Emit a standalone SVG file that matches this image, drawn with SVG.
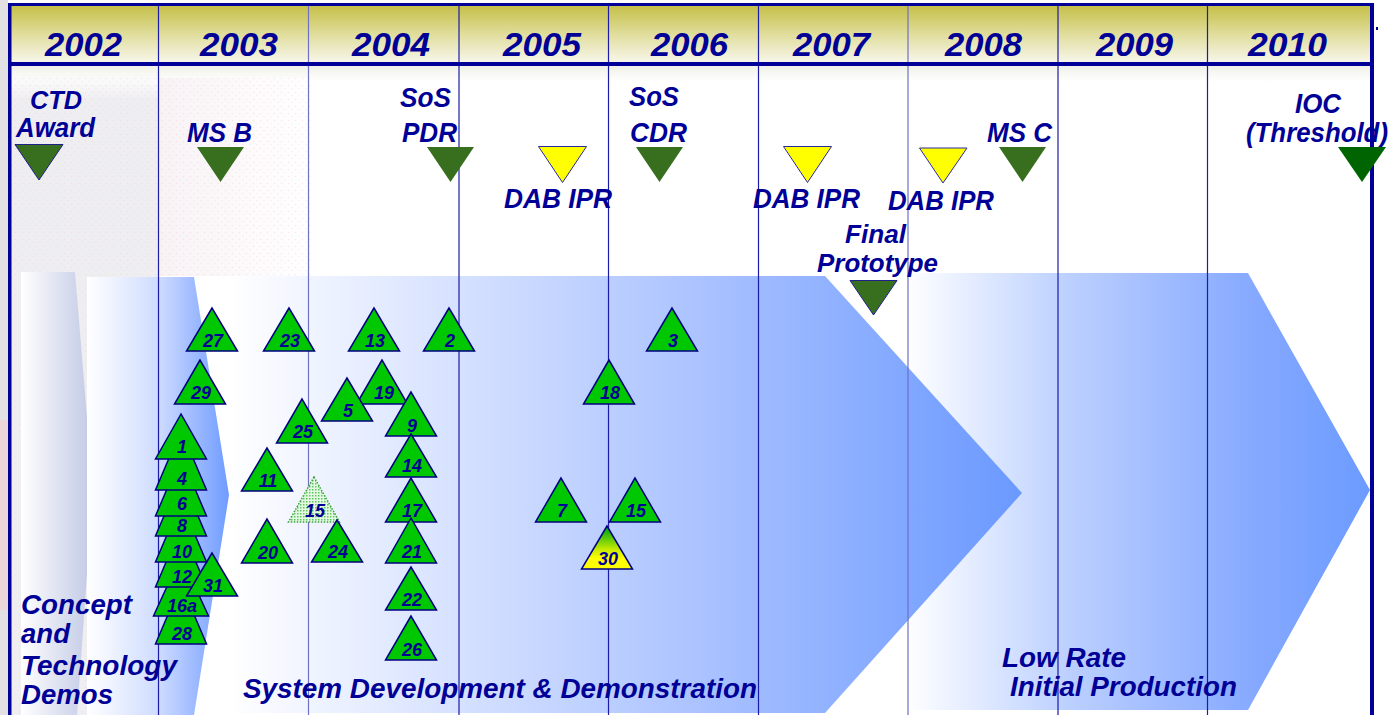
<svg xmlns="http://www.w3.org/2000/svg" width="1400" height="715" viewBox="0 0 1400 715">
<style>
.yr{font-family:"Liberation Sans",Arial,sans-serif;font-style:italic;font-weight:bold;font-size:34px;fill:#000096}
.ms{font-family:"Liberation Sans",Arial,sans-serif;font-style:italic;font-weight:bold;font-size:28px;fill:#000096}
.ms2{font-family:"Liberation Sans",Arial,sans-serif;font-style:italic;font-weight:bold;font-size:26px;fill:#000096}
.ms3{font-family:"Liberation Sans",Arial,sans-serif;font-style:italic;font-weight:bold;font-size:25px;fill:#000096}
.ph{font-family:"Liberation Sans",Arial,sans-serif;font-style:italic;font-weight:bold;font-size:27px;fill:#000096}
.tl{font-family:"Liberation Sans",Arial,sans-serif;font-style:italic;font-weight:bold;font-size:18px;fill:#000096;text-anchor:middle}
.tri{fill:#00c800;stroke:#000080;stroke-width:1.5;stroke-linejoin:miter}
.mg{fill:#386f1f}
.mgs{fill:#386f1f;stroke:#20208a;stroke-width:1}
.mi{fill:#006400}
.my{fill:#ffff00;stroke:#2a2aa0;stroke-width:1}
.col{stroke:#1c1ca6;stroke-width:1.2}
.coll{stroke:#7070c4;stroke-width:1.2}
.frame{fill:#000099}
</style>
<defs>
<linearGradient id="hdr" x1="0" y1="0" x2="0" y2="1">
<stop offset="0" stop-color="#c4bf45"/>
<stop offset="0.5" stop-color="#e0dd9c"/>
<stop offset="1" stop-color="#f8f7ec"/>
</linearGradient>
<linearGradient id="under" x1="0" y1="0" x2="0" y2="1">
<stop offset="0" stop-color="#f1f1ea"/>
<stop offset="1" stop-color="#ffffff"/>
</linearGradient>
<linearGradient id="greyv" x1="0" y1="0" x2="0" y2="1">
<stop offset="0" stop-color="#eeeef1" stop-opacity="0"/>
<stop offset="0.04" stop-color="#eeeef1"/>
<stop offset="1" stop-color="#efeff2"/>
</linearGradient>
<linearGradient id="pinkh" x1="0" y1="0" x2="1" y2="0">
<stop offset="0" stop-color="#f8f2f5"/>
<stop offset="1" stop-color="#ffffff"/>
</linearGradient>
<linearGradient id="g1" gradientUnits="userSpaceOnUse" x1="21" y1="0" x2="93" y2="0">
<stop offset="0" stop-color="#ffffff"/>
<stop offset="1" stop-color="#c0c8e4"/>
</linearGradient>
<linearGradient id="g2" gradientUnits="userSpaceOnUse" x1="87" y1="0" x2="229" y2="0">
<stop offset="0" stop-color="#ffffff"/>
<stop offset="0.5" stop-color="#cfdcff"/>
<stop offset="0.8" stop-color="#96b5ff"/>
<stop offset="1" stop-color="#6f9cff"/>
</linearGradient>
<linearGradient id="g3" gradientUnits="userSpaceOnUse" x1="228" y1="0" x2="1022" y2="0">
<stop offset="0" stop-color="#ffffff"/>
<stop offset="0.3" stop-color="#d4e0ff"/>
<stop offset="0.6" stop-color="#aac2ff"/>
<stop offset="0.85" stop-color="#82a8ff"/>
<stop offset="1" stop-color="#6a99ff"/>
</linearGradient>
<linearGradient id="g4" gradientUnits="userSpaceOnUse" x1="905" y1="0" x2="1370" y2="0">
<stop offset="0" stop-color="#ffffff"/>
<stop offset="0.35" stop-color="#bcd0ff"/>
<stop offset="0.75" stop-color="#86a9ff"/>
<stop offset="1" stop-color="#6b9bff"/>
</linearGradient>
<linearGradient id="g30" x1="0" y1="0" x2="0" y2="1">
<stop offset="0.1" stop-color="#10b010"/>
<stop offset="0.55" stop-color="#c8ec00"/>
<stop offset="0.75" stop-color="#ffff00"/>
</linearGradient>
<pattern id="dots" width="3" height="3" patternUnits="userSpaceOnUse">
<rect width="3" height="3" fill="#e4f8e4"/>
<rect width="1.5" height="1.5" fill="#5cc85c"/>
</pattern>
<pattern id="speck" width="7" height="7" patternUnits="userSpaceOnUse">
<circle cx="1.5" cy="1.5" r="0.8" fill="#f2bfd0"/>
<circle cx="5" cy="4.5" r="0.7" fill="#e8c8dc"/>
</pattern>
</defs>

<g id="background">
<rect width="1400" height="715" fill="#ffffff"/>
<rect x="0" y="0" width="8" height="715" fill="#e2e0e3"/>
<rect x="0" y="420" width="8" height="190" fill="#ecd6da"/>
<rect x="11" y="66" width="1360" height="16" fill="url(#under)"/>
<rect x="11" y="74" width="148" height="641" fill="url(#greyv)"/>
<rect x="159" y="78" width="150" height="198" fill="url(#pinkh)"/>
<rect x="11" y="78" width="300" height="198" fill="url(#speck)" opacity="0.35"/>
<rect x="11" y="276" width="148" height="439" fill="url(#speck)" opacity="0.25"/>
</g>

<g id="phase-arrows">
<polygon id="arrow-concept-1" points="21,272 75,272 93,490 77,715 21,715" fill="url(#g1)"/>
<polygon id="arrow-lrip" points="905,273 1248,273 1370,490 1248,710 905,710" fill="url(#g4)"/>
<polygon id="arrow-sdd" points="195,276 825,276 1022,493 825,713 195,713" fill="url(#g3)"/>
<polygon id="arrow-concept-2" points="87,277 194,277 229,495 194,715 87,715" fill="url(#g2)"/>
</g>

<g id="header">
<rect x="10" y="5" width="1362" height="58" fill="url(#hdr)"/>
</g>

<g id="grid">
<line class="col" x1="158.5" y1="5" x2="158.5" y2="715"/>
<line class="coll" x1="308.5" y1="5" x2="308.5" y2="715"/>
<line class="col" x1="459" y1="5" x2="459" y2="715"/>
<line class="col" x1="608.5" y1="5" x2="608.5" y2="715"/>
<line class="col" x1="758.5" y1="5" x2="758.5" y2="715"/>
<line class="coll" x1="908" y1="5" x2="908" y2="715"/>
<line class="col" x1="1058" y1="5" x2="1058" y2="715"/>
<line class="col" x1="1207.5" y1="5" x2="1207.5" y2="715"/>
</g>

<g id="frame">
<rect class="frame" x="8" y="3" width="1366" height="3"/>
<rect class="frame" x="8" y="3" width="3.5" height="712"/>
<rect class="frame" x="1370" y="3" width="4" height="712"/>
<rect class="frame" x="8" y="62" width="1366" height="4"/>
<rect class="frame" x="1376" y="27" width="2" height="3"/>
</g>

<g id="years">
<text class="yr" x="45" y="56" textLength="77" lengthAdjust="spacingAndGlyphs">2002</text>
<text class="yr" x="200" y="56" textLength="78" lengthAdjust="spacingAndGlyphs">2003</text>
<text class="yr" x="352" y="56" textLength="78" lengthAdjust="spacingAndGlyphs">2004</text>
<text class="yr" x="503" y="56" textLength="78" lengthAdjust="spacingAndGlyphs">2005</text>
<text class="yr" x="651" y="56" textLength="77" lengthAdjust="spacingAndGlyphs">2006</text>
<text class="yr" x="793" y="56" textLength="77" lengthAdjust="spacingAndGlyphs">2007</text>
<text class="yr" x="945" y="56" textLength="77" lengthAdjust="spacingAndGlyphs">2008</text>
<text class="yr" x="1096" y="56" textLength="77" lengthAdjust="spacingAndGlyphs">2009</text>
<text class="yr" x="1248" y="56" textLength="79" lengthAdjust="spacingAndGlyphs">2010</text>
</g>

<g id="ms-ctd">
<text class="ms2" x="30" y="109" textLength="52" lengthAdjust="spacingAndGlyphs">CTD</text>
<text class="ms" x="16" y="137" textLength="79" lengthAdjust="spacingAndGlyphs">Award</text>
<polygon class="mgs" points="15,144.5 63,144.5 39,180"/>
</g>
<g id="ms-b">
<text class="ms" x="187" y="142" textLength="65" lengthAdjust="spacingAndGlyphs">MS B</text>
<polygon class="mg" points="197,147 244,147 220.5,182"/>
</g>
<g id="ms-sos-pdr">
<text class="ms" x="400" y="107" textLength="51" lengthAdjust="spacingAndGlyphs">SoS</text>
<text class="ms" x="402" y="142" textLength="55" lengthAdjust="spacingAndGlyphs">PDR</text>
<polygon class="mg" points="427,147 474,147 450.5,182"/>
</g>
<g id="ms-dab-2005">
<polygon class="my" points="538.5,146.5 586.5,146.5 562.5,182.5"/>
<text class="ms" x="504" y="208" textLength="108" lengthAdjust="spacingAndGlyphs">DAB IPR</text>
</g>
<g id="ms-sos-cdr">
<text class="ms" x="629" y="106" textLength="50" lengthAdjust="spacingAndGlyphs">SoS</text>
<text class="ms" x="630" y="142" textLength="57" lengthAdjust="spacingAndGlyphs">CDR</text>
<polygon class="mg" points="636,147 683,147 659.5,182"/>
</g>
<g id="ms-dab-2007">
<polygon class="my" points="783.5,146.5 831.5,146.5 807.5,182.5"/>
<text class="ms" x="753" y="208" textLength="107" lengthAdjust="spacingAndGlyphs">DAB IPR</text>
</g>
<g id="ms-dab-2008">
<polygon class="my" points="919.5,148 967,148 943,183"/>
<text class="ms" x="888" y="210" textLength="106" lengthAdjust="spacingAndGlyphs">DAB IPR</text>
</g>
<g id="ms-c">
<text class="ms" x="987" y="142" textLength="65" lengthAdjust="spacingAndGlyphs">MS C</text>
<polygon class="mg" points="999,147 1046,147 1022.5,182"/>
</g>
<g id="ms-ioc">
<text class="ms" x="1295" y="113" textLength="46" lengthAdjust="spacingAndGlyphs">IOC</text>
<text class="ms" x="1246" y="142" textLength="142" lengthAdjust="spacingAndGlyphs">(Threshold)</text>
<polygon class="mi" points="1338,147 1386,147 1362,182"/>
</g>
<g id="ms-final-prototype">
<text class="ms3" x="845" y="243" textLength="61" lengthAdjust="spacingAndGlyphs">Final</text>
<text class="ms2" x="817" y="272" textLength="121" lengthAdjust="spacingAndGlyphs">Prototype</text>
<polygon class="mgs" points="850,280.5 897,280.5 873.5,315"/>
</g>

<g id="items">
<g id="item-27"><polygon class="tri" points="212,308 186.5,351 237.5,351"/><text class="tl" x="213" y="347">27</text></g>
<g id="item-23"><polygon class="tri" points="289,308 263.5,351 314.5,351"/><text class="tl" x="290" y="347">23</text></g>
<g id="item-13"><polygon class="tri" points="374,308 348.5,351 399.5,351"/><text class="tl" x="375" y="347">13</text></g>
<g id="item-2"><polygon class="tri" points="449,308 423.5,351 474.5,351"/><text class="tl" x="450" y="347">2</text></g>
<g id="item-3"><polygon class="tri" points="672,308 646.5,351 697.5,351"/><text class="tl" x="673" y="347">3</text></g>
<g id="item-19"><polygon class="tri" points="382,360 356.5,404 407.5,404"/><text class="tl" x="384" y="399">19</text></g>
<g id="item-29"><polygon class="tri" points="200,360 174.5,404 225.5,404"/><text class="tl" x="201" y="399">29</text></g>
<g id="item-18"><polygon class="tri" points="609,360 583.5,404 634.5,404"/><text class="tl" x="610" y="399">18</text></g>
<g id="item-5"><polygon class="tri" points="347,378 321.5,421 372.5,421"/><text class="tl" x="348" y="417">5</text></g>
<g id="item-25"><polygon class="tri" points="302,399 276.5,443 327.5,443"/><text class="tl" x="303" y="438">25</text></g>
<g id="item-9"><polygon class="tri" points="411,392 385.5,436 436.5,436"/><text class="tl" x="412" y="432">9</text></g>
<g id="item-14"><polygon class="tri" points="411,434 385.5,477 436.5,477"/><text class="tl" x="412" y="472">14</text></g>
<g id="item-11"><polygon class="tri" points="267,448 241.5,491 292.5,491"/><text class="tl" x="268" y="487">11</text></g>
<g id="item-15a"><polygon points="314,477 288.5,522 339.5,522" fill="url(#dots)" stroke="#3aa03a" stroke-width="1.5" stroke-dasharray="1.5,1.5"/><text class="tl" x="315" y="517">15</text></g>
<g id="item-17"><polygon class="tri" points="411,478 385.5,522 436.5,522"/><text class="tl" x="412" y="517">17</text></g>
<g id="item-7"><polygon class="tri" points="561,478 535.5,522 586.5,522"/><text class="tl" x="562" y="517">7</text></g>
<g id="item-15b"><polygon class="tri" points="635,478 609.5,522 660.5,522"/><text class="tl" x="636" y="517">15</text></g>
<g id="item-24"><polygon class="tri" points="337,520 311.5,562 362.5,562"/><text class="tl" x="338" y="558">24</text></g>
<g id="item-21"><polygon class="tri" points="411,518 385.5,563 436.5,563"/><text class="tl" x="412" y="558">21</text></g>
<g id="item-20"><polygon class="tri" points="267,519 241.5,563 292.5,563"/><text class="tl" x="268" y="559">20</text></g>
<g id="item-30"><polygon points="607,526 581.5,569 632.5,569" fill="url(#g30)" stroke="#000080" stroke-width="1.5"/><text class="tl" x="608" y="565">30</text></g>
<g id="item-22"><polygon class="tri" points="411,567 385.5,610 436.5,610"/><text class="tl" x="412" y="606">22</text></g>
<g id="item-26"><polygon class="tri" points="411,616 385.5,660 436.5,660"/><text class="tl" x="412" y="656">26</text></g>
<g id="item-28"><polygon class="tri" points="181,584 155.5,644 206.5,644"/><text class="tl" x="182" y="640">28</text></g>
<g id="item-16a"><polygon class="tri" points="181,556 153.5,616 208.5,616"/><text class="tl" x="182" y="612">16a</text></g>
<g id="item-12"><polygon class="tri" points="181,527 155.5,587 206.5,587"/><text class="tl" x="182" y="583">12</text></g>
<g id="item-31"><polygon class="tri" points="212,553 186.5,596 237.5,596"/><text class="tl" x="213" y="592">31</text></g>
<g id="item-10"><polygon class="tri" points="181,502 155.5,562 206.5,562"/><text class="tl" x="182" y="558">10</text></g>
<g id="item-8"><polygon class="tri" points="181,476 155.5,536 206.5,536"/><text class="tl" x="182" y="532">8</text></g>
<g id="item-6"><polygon class="tri" points="181,456 155.5,516 206.5,516"/><text class="tl" x="182" y="510">6</text></g>
<g id="item-4"><polygon class="tri" points="181,430 155.5,490 206.5,490"/><text class="tl" x="182" y="485">4</text></g>
<g id="item-1"><polygon class="tri" points="181,414 155.5,459 206.5,459"/><text class="tl" x="182" y="453">1</text></g>
</g>

<g id="phase-labels">
<text class="ph" x="21" y="614" textLength="111" lengthAdjust="spacingAndGlyphs">Concept</text>
<text class="ph" x="21" y="643" textLength="49" lengthAdjust="spacingAndGlyphs">and</text>
<text class="ph" x="21" y="675" textLength="156" lengthAdjust="spacingAndGlyphs">Technology</text>
<text class="ph" x="21" y="704" textLength="92" lengthAdjust="spacingAndGlyphs">Demos</text>
<text class="ph" x="243" y="698" textLength="514" lengthAdjust="spacingAndGlyphs">System Development &amp; Demonstration</text>
<text class="ph" x="1002" y="667" textLength="124" lengthAdjust="spacingAndGlyphs">Low Rate</text>
<text class="ph" x="1010" y="696" textLength="227" lengthAdjust="spacingAndGlyphs">Initial Production</text>
</g>
</svg>
